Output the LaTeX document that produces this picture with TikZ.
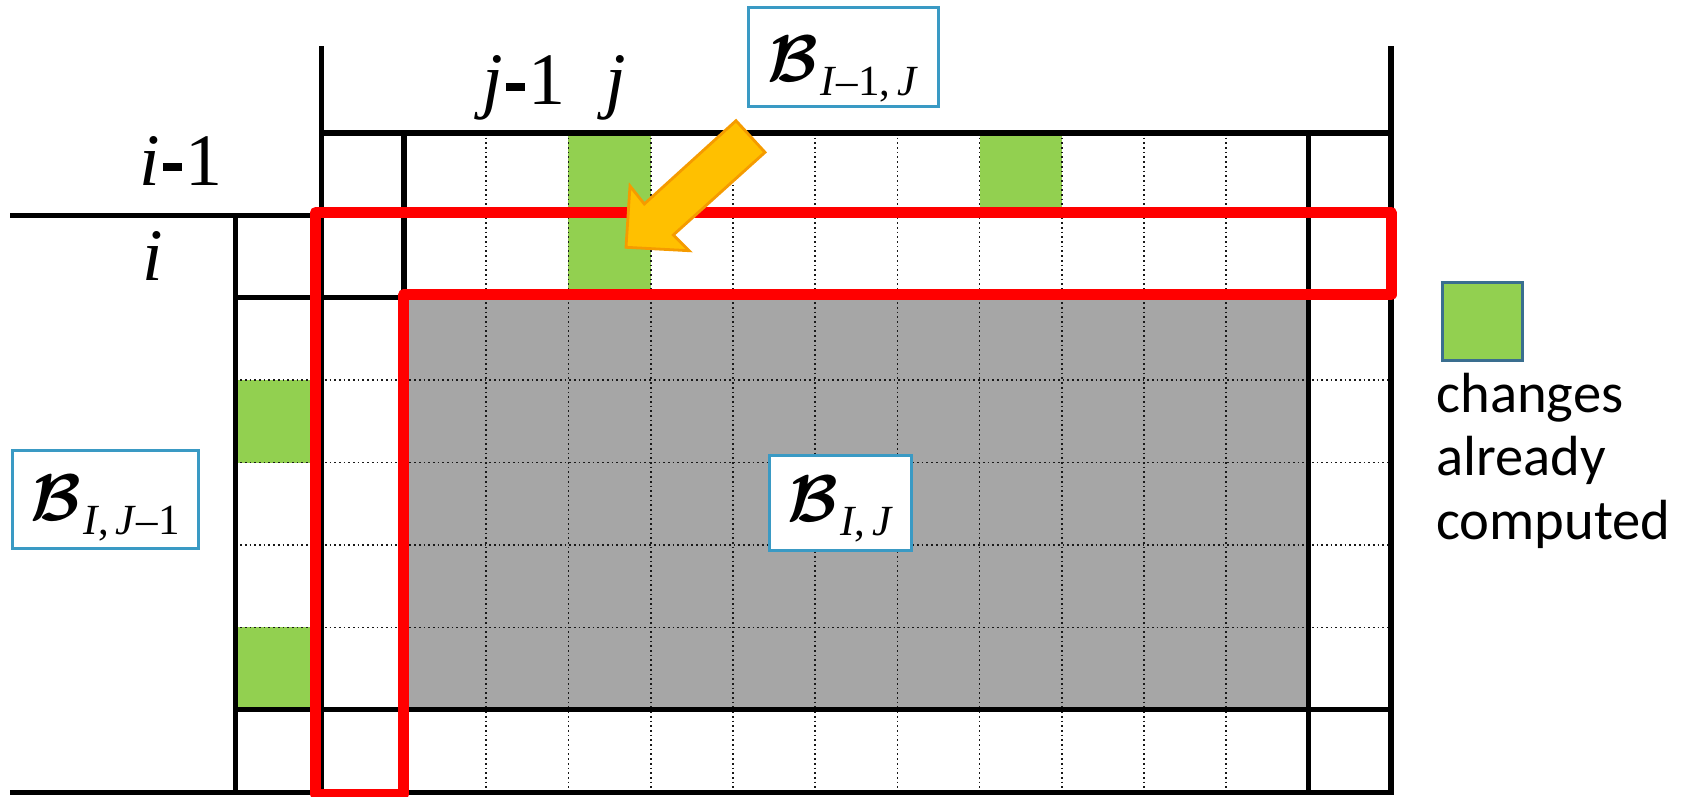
\documentclass[tikz,border=0pt]{standalone}
\usepackage{amsmath}
\usepackage{graphicx}
\usepackage{fontspec}
\setmainfont{Liberation Serif}
\newfontfamily\timesfont{Liberation Serif}
\newfontfamily\legendfont{Carlito}
\definecolor{cellgreen}{HTML}{92D050}
\definecolor{cellgray}{HTML}{A6A6A6}
\definecolor{boxblue}{HTML}{3A9AC4}
\definecolor{legborder}{HTML}{3A6E8F}
\definecolor{arrowfill}{HTML}{FFC000}
\definecolor{arrowedge}{HTML}{F59B00}
\definecolor{redframe}{HTML}{FF0000}
\newcommand{\Bcal}{\scalebox{3.3}{$\boldsymbol{\mathcal{B}}$}}
\newcommand{\Bsub}[1]{\kern1pt\raisebox{-7pt}{\timesfont\fontsize{21.5}{21.5}\selectfont #1}}
\newcommand{\hy}{\kern1.5pt\rule[7pt]{9.5pt}{4pt}\kern2pt}
\begin{document}
\begin{tikzpicture}[x=0.5pt,y=-0.5pt,
  gridline/.style={line width=2.6pt, line cap=rect, black},
  dotline/.style={line width=0.85pt, dash pattern=on 0.85pt off 1.5pt, black!90},
  redline/.style={line width=5.5pt, line join=round, draw=redframe},
  blockarrow/.style={fill=arrowfill, draw=arrowedge, line width=1.4pt, line join=miter},
  bbox/.style={draw=boxblue, line width=1.5pt, fill=white, inner sep=0pt, text depth=0pt},
  lab/.style={font=\timesfont\fontsize{37}{37}\selectfont, inner sep=0pt, anchor=base},
  legtext/.style={font=\legendfont\fontsize{28.3}{28.3}\selectfont, inner sep=0pt, anchor=base west}
]
\useasboundingbox (0,0) rectangle (1694,797);
% fills
\fill[cellgray] (404,297.8) rectangle (1308.5,709.8);
\fill[cellgreen] (568.2,133) rectangle (650.5,297.8);
\fill[cellgreen] (979.6,133) rectangle (1061.8,215.4);
\fill[cellgreen] (235.5,380.2) rectangle (321.5,462.6);
\fill[cellgreen] (235.5,627.4) rectangle (321.5,709.8);
% dotted grid
\foreach \k in {1,...,10}
  \draw[dotline] ({404+82.23*\k},133) -- ({404+82.23*\k},792.2);
\foreach \yy in {380.2,462.6,545,627.4}
  \draw[dotline] (235.5,\yy) -- (1391,\yy);
% thick grid
\draw[gridline] (321.5,49) -- (321.5,792.2);
\draw[gridline] (1391,49) -- (1391,792.2);
\draw[gridline] (404,133) -- (404,792.2);
\draw[gridline] (1308.5,133) -- (1308.5,792.2);
\draw[gridline] (235.5,215.5) -- (235.5,792.2);
\draw[gridline] (321.5,133) -- (1391,133);
\draw[gridline] (13,215.5) -- (1391,215.5);
\draw[gridline] (235.5,297.8) -- (404,297.8);
\draw[gridline] (235.5,709.8) -- (1391,709.8);
\draw[gridline] (13,792.2) -- (1391,792.2);
% red frame
\draw[redline] (315.5,212.5) -- (1391,212.5) -- (1391,294.7) -- (403.8,294.7) -- (403.8,794) -- (315.5,794) -- cycle;
% block arrow
\draw[blockarrow] (626,247.3) -- (630,186) -- (644.3,204) -- (736,120.7) -- (765,152.3) -- (673.3,235) -- (689,250.7) -- cycle;
% labels
\node[lab] (im1) at (181,185) {\textit{i}\hy 1};
\node[lab] (ii) at (153,280) {\textit{i}};
\node[lab] (jm1) at (524,105) {\textit{j}\hy 1};
\node[lab] (jj) at (616,105) {\textit{j}};
% B boxes
\node[bbox, minimum width=95pt, minimum height=49.4pt, text height=25pt] (bup) at (843,56.7)
  {\Bcal\Bsub{\textit{I}–1,\,\textit{J}}};
\node[bbox, minimum width=71.2pt, minimum height=47.9pt, text height=18.8pt] (bcur) at (840.5,502.9)
  {\Bcal\Bsub{\textit{I},\,\textit{J}}};
\node[bbox, minimum width=93pt, minimum height=49.2pt, text height=20.8pt] (bleft) at (105.3,499.2)
  {\Bcal\Bsub{\textit{I},\,\textit{J}–1}};
% legend
\node[draw=legborder, line width=1.5pt, fill=cellgreen, minimum width=40pt, minimum height=39pt, inner sep=0pt] (legsq) at (1482,321) {};
\node[legtext] (leg1) at (1436,412) {changes};
\node[legtext] (leg2) at (1436,475) {already};
\node[legtext] (leg3) at (1436,539) {computed};
\end{tikzpicture}
\end{document}
